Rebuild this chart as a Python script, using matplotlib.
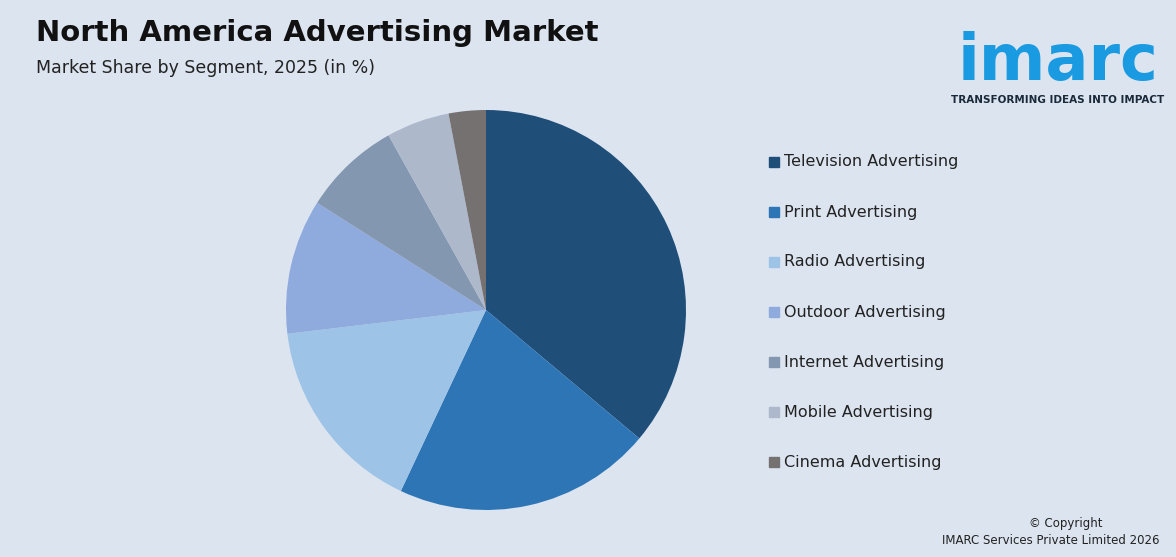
import matplotlib
matplotlib.use("Agg")
import matplotlib.pyplot as plt
from matplotlib.patches import Rectangle

segments = ["Television Advertising", "Print Advertising", "Radio Advertising",
            "Outdoor Advertising", "Internet Advertising", "Mobile Advertising",
            "Cinema Advertising"]
shares = [36.1, 20.9, 16.1, 10.9, 7.9, 5.1, 3.0]
colors = ["#1f4e79", "#2e75b6", "#9dc3e6", "#8faadc", "#8497b0", "#adb9ca", "#767171"]

W, H = 1176, 557
bg = "#dce4f0"
fig = plt.figure(figsize=(W/100, H/100), dpi=100, facecolor=bg)

ax = fig.add_axes([286/W, (H-510)/H, 400/W, 400/H])
ax.pie(shares, colors=colors, startangle=90, counterclock=False,
       wedgeprops=dict(linewidth=0))
ax.set_xlim(-1, 1)
ax.set_ylim(-1, 1)
ax.set_aspect("equal")

fig.text(36/W, 1-33/H, "North America Advertising Market", fontsize=21,
         fontweight="bold", color="#111111", va="center", ha="left")
fig.text(36/W, 1-68/H, "Market Share by Segment, 2025 (in %)", fontsize=12.5,
         color="#222222", va="center", ha="left")

for i, s in enumerate(segments):
    y = 162 + 50*i
    fig.patches.append(Rectangle((769/W, 1-(y+5)/H), 10/W, 10/H,
                                 transform=fig.transFigure, color=colors[i]))
    fig.text(784/W, 1-y/H, s, fontsize=11.5, color="#222222", va="center", ha="left")

fig.text(1058/W, 1-62/H, "imarc", fontsize=46, fontweight="bold", color="#1a9ae0",
         va="center", ha="center")
fig.text(1058/W, 1-100/H, "TRANSFORMING IDEAS INTO IMPACT", fontsize=7.5,
         fontweight="bold", color="#1a2a3a", va="center", ha="center")
fig.text(1066/W, 1-523/H, "© Copyright", fontsize=8.5, color="#222222",
         va="center", ha="center")
fig.text(1160/W, 1-541/H, "IMARC Services Private Limited 2026", fontsize=8.5,
         color="#222222", va="center", ha="right")

fig.savefig("out.png", dpi=100, facecolor=bg)
